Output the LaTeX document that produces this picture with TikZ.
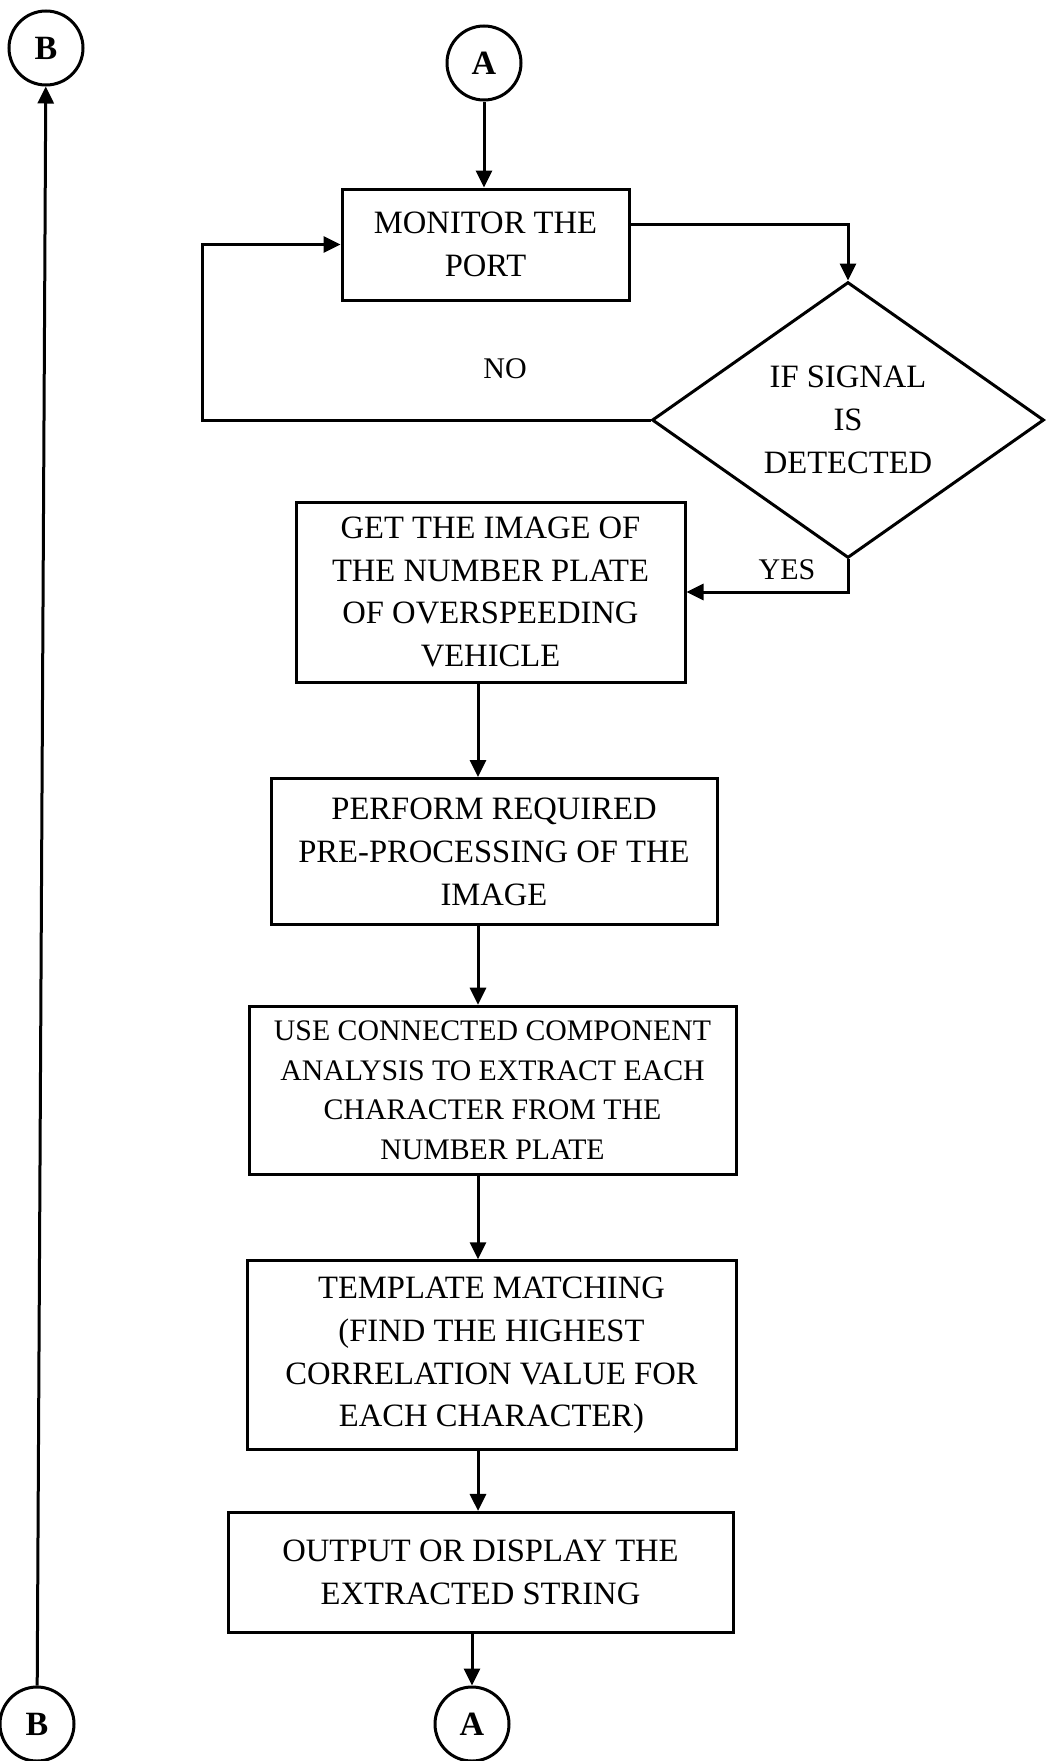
\documentclass[tikz,border=0pt]{standalone}
\usepackage{fontspec}
\setmainfont{Liberation Serif}
\usetikzlibrary{arrows.meta,positioning,shapes.geometric}

\begin{document}
\begin{tikzpicture}[
  x=0.5pt, y=-0.5pt,
  font=\fontsize{16.3}{21.4}\selectfont,
  box/.style={draw, line width=1.5pt, align=center, inner sep=2pt},
  cond/.style={box, diamond, inner sep=0pt, minimum width=196pt, minimum height=130pt},
  conn/.style={draw, circle, line width=1.5pt, minimum size=37pt, inner sep=0pt, font=\fontsize{17}{20}\selectfont\bfseries},
  lbl/.style={font=\fontsize{15}{18}\selectfont},
  arrow/.style={-{Triangle[length=8.5pt,width=8pt]}, line width=1.5pt},
]
  \useasboundingbox (0,0) rectangle (1045,1761);

  % connectors
  \node[conn] (Btop) at (46,48) {B};
  \node[conn] (Atop) at (484,63) {A};
  \node[conn] (Bbot) at (37,1724) {B};

  \node[box, minimum width=143.5pt, minimum height=55.5pt] (monitor) at (485.5,244.5) {MONITOR THE\\PORT};
  \node[cond] (signal) at (848,420) {IF SIGNAL\\IS\\DETECTED};

  \node[box, minimum width=194.5pt, minimum height=90pt] (getimg) at (490.5,592) {GET THE IMAGE OF\\THE NUMBER PLATE\\OF OVERSPEEDING\\VEHICLE};
  \node[box, below=46.8pt of getimg, xshift=1.75pt, minimum width=223pt, minimum height=73pt] (prep) {PERFORM REQUIRED\\PRE-PROCESSING OF THE\\IMAGE};
  \node[box, below=39.3pt of prep, xshift=-0.75pt, minimum width=243.5pt, minimum height=84pt,
        font=\fontsize{14.9}{19.8}\selectfont] (ccomp) {USE CONNECTED COMPONENT\\ANALYSIS TO EXTRACT EACH\\CHARACTER FROM THE\\NUMBER PLATE};
  \node[box, below=41.8pt of ccomp, xshift=-0.5pt, minimum width=244.5pt, minimum height=94.5pt] (match) {TEMPLATE MATCHING\\(FIND THE HIGHEST\\CORRELATION VALUE FOR\\EACH CHARACTER)};
  \node[box, below=29.8pt of match, xshift=-5.5pt, minimum width=252.5pt, minimum height=60pt] (out) {OUTPUT OR DISPLAY THE\\EXTRACTED STRING};
  \node[conn, below=25.8pt of out, xshift=-4.25pt] (Abot) {A};

  \node[lbl] (no) at (505,369) {NO};
  \node[lbl] (yes) at (787,570) {YES};

  \coordinate (spine) at (478,0);
  \coordinate (noloop) at (202,0);

  \draw[arrow] (Atop) -- (Atop |- monitor.north);
  \draw[arrow] ([yshift=10pt]monitor.east) -| (signal.north);
  \draw[arrow] (signal.west) -- (signal.west -| noloop) |- (monitor.west);
  \draw[arrow] (signal.south) |- (getimg.east);
  \draw[arrow] (getimg.south -| spine) -- (prep.north -| spine);
  \draw[arrow] (prep.south -| spine) -- (ccomp.north -| spine);
  \draw[arrow] (ccomp.south -| spine) -- (match.north -| spine);
  \draw[arrow] (match.south -| spine) -- (out.north -| spine);
  \draw[arrow] (out.south -| Abot) -- (Abot);
  \draw[arrow] (Bbot) -- (Btop);
\end{tikzpicture}
\end{document}
